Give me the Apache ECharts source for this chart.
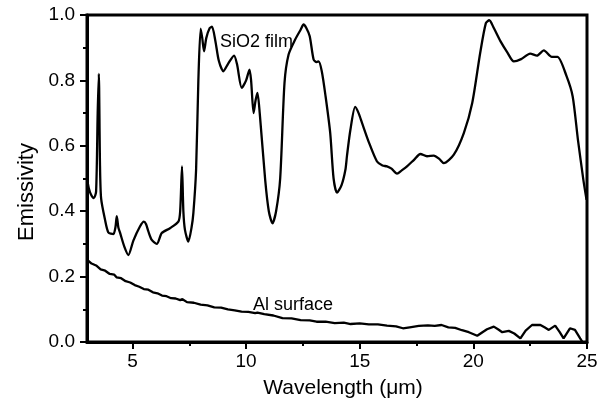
<!DOCTYPE html>
<html>
<head>
<meta charset="utf-8">
<script src="https://cdn.jsdelivr.net/npm/echarts@6/dist/echarts.min.js"></script>
<style>
  html, body { margin: 0; padding: 0; background: #fff; }
  #chart { width: 608px; height: 408px; }
</style>
</head>
<body>
<div id="chart"></div>
<script>
// Emissivity spectra: oxide film vs. bare aluminium
const sio2Wavelength = [3.0, 3.08, 3.18, 3.3, 3.4, 3.47, 3.52, 3.57, 3.62, 3.79, 3.94, 4.16, 4.25, 4.31, 4.38, 4.45, 4.65, 4.82, 5.04, 5.33, 5.5, 5.6, 5.7, 5.85, 6.07, 6.29, 6.65, 7.02, 7.1, 7.18, 7.24, 7.31, 7.46, 7.6, 7.68, 7.8, 7.9, 8.0, 8.07, 8.15, 8.25, 8.4, 8.5, 8.65, 8.8, 9.0, 9.2, 9.47, 9.6, 9.81, 10.0, 10.15, 10.22, 10.33, 10.42, 10.5, 10.6, 10.84, 11.0, 11.16, 11.32, 11.5, 11.69, 11.87, 12.16, 12.4, 12.53, 12.65, 12.8, 12.97, 13.1, 13.19, 13.33, 13.5, 13.7, 13.85, 14.0, 14.2, 14.37, 14.44, 14.59, 14.8, 14.95, 15.1, 15.39, 15.76, 16.0, 16.2, 16.4, 16.64, 16.85, 17.08, 17.4, 17.67, 17.96, 18.26, 18.5, 18.7, 19.14, 19.58, 19.95, 20.3, 20.55, 20.7, 20.9, 21.19, 21.5, 21.78, 22.1, 22.5, 22.8, 23.1, 23.45, 23.7, 24.1, 24.37, 24.6, 24.84, 24.98];
const sio2Emissivity = [0.50, 0.47, 0.45, 0.44, 0.46, 0.70, 0.82, 0.55, 0.44, 0.375, 0.335, 0.33, 0.35, 0.385, 0.35, 0.335, 0.29, 0.266, 0.31, 0.353, 0.368, 0.36, 0.338, 0.312, 0.30, 0.333, 0.348, 0.368, 0.40, 0.537, 0.40, 0.343, 0.307, 0.35, 0.394, 0.527, 0.80, 0.958, 0.93, 0.889, 0.93, 0.96, 0.964, 0.92, 0.86, 0.828, 0.85, 0.876, 0.85, 0.777, 0.80, 0.833, 0.80, 0.70, 0.74, 0.762, 0.70, 0.496, 0.40, 0.363, 0.40, 0.50, 0.792, 0.879, 0.925, 0.955, 0.971, 0.96, 0.935, 0.864, 0.856, 0.858, 0.828, 0.75, 0.64, 0.50, 0.457, 0.48, 0.527, 0.57, 0.649, 0.719, 0.70, 0.67, 0.613, 0.552, 0.54, 0.537, 0.53, 0.515, 0.525, 0.537, 0.558, 0.575, 0.568, 0.57, 0.56, 0.547, 0.573, 0.639, 0.731, 0.884, 0.975, 0.984, 0.96, 0.92, 0.885, 0.858, 0.865, 0.882, 0.876, 0.892, 0.872, 0.872, 0.813, 0.751, 0.619, 0.496, 0.435];

const alWavelength = [3.0, 3.2, 3.4, 3.6, 3.8, 4.0, 4.2, 4.3, 4.5, 4.7, 4.9, 5.1, 5.3, 5.5, 5.7, 5.9, 6.1, 6.3, 6.5, 6.7, 6.9, 7.1, 7.2, 7.4, 7.7, 8.0, 8.3, 8.6, 8.9, 9.2, 9.5, 9.8, 10.1, 10.4, 10.5, 10.8, 11.2, 11.6, 12.0, 12.4, 12.8, 13.1, 13.5, 13.9, 14.3, 14.6, 15.0, 15.4, 15.8, 16.2, 16.6, 16.9, 17.2, 17.6, 18.0, 18.3, 18.6, 18.9, 19.2, 19.5, 19.8, 20.17, 20.4, 20.6, 20.9, 21.1, 21.27, 21.56, 21.8, 22.07, 22.3, 22.58, 22.95, 23.15, 23.32, 23.6, 23.8, 23.97, 24.25, 24.47, 24.7, 24.8];
const alEmissivity = [0.252, 0.240, 0.234, 0.222, 0.218, 0.208, 0.206, 0.198, 0.195, 0.186, 0.182, 0.174, 0.169, 0.162, 0.160, 0.152, 0.149, 0.142, 0.140, 0.134, 0.133, 0.128, 0.131, 0.122, 0.120, 0.114, 0.112, 0.106, 0.105, 0.100, 0.097, 0.093, 0.092, 0.088, 0.090, 0.085, 0.081, 0.073, 0.072, 0.067, 0.066, 0.062, 0.062, 0.058, 0.059, 0.055, 0.057, 0.054, 0.054, 0.050, 0.048, 0.042, 0.045, 0.049, 0.051, 0.049, 0.052, 0.045, 0.043, 0.036, 0.030, 0.019, 0.030, 0.039, 0.047, 0.038, 0.030, 0.034, 0.026, 0.011, 0.035, 0.052, 0.052, 0.044, 0.037, 0.050, 0.030, 0.011, 0.042, 0.037, 0.011, 0.0];

const xMajorTicks = [5, 10, 15, 20, 25];
const xMinorTicks = [7.5, 12.5, 17.5, 22.5];

const FONT = '"Liberation Sans", Arial, Helvetica, sans-serif';

const chart = echarts.init(document.getElementById('chart'), null, { renderer: 'canvas' });

function pairs(xs, ys) {
  return xs.map((x, i) => [x, ys[i]]);
}

const lineStyle = { color: '#000', width: 2.3 };

chart.setOption({
  animation: false,
  backgroundColor: '#fff',
  grid: {
    left: 87, right: 21, top: 15, bottom: 66,
    show: true, borderColor: '#000', borderWidth: 3, backgroundColor: 'transparent'
  },
  xAxis: [
    {
      type: 'value', min: 3, max: 25, position: 'bottom',
      axisLine: { show: true, onZero: false, lineStyle: { color: '#000', width: 3 } },
      axisTick: { show: true, customValues: xMajorTicks, length: 7, lineStyle: { color: '#000', width: 2 } },
      axisLabel: { show: true, customValues: xMajorTicks, margin: 10, color: '#000', fontSize: 19, fontFamily: FONT },
      splitLine: { show: false }
    },
    {
      type: 'value', min: 3, max: 25, position: 'bottom',
      axisLine: { show: false, onZero: false },
      axisTick: { show: true, customValues: xMinorTicks, length: 4, lineStyle: { color: '#000', width: 2 } },
      axisLabel: { show: false },
      splitLine: { show: false }
    }
  ],
  yAxis: {
    type: 'value', min: 0, max: 1, interval: 0.2,
    axisLine: { show: true, onZero: false, lineStyle: { color: '#000', width: 3 } },
    axisTick: { show: true, length: 7, lineStyle: { color: '#000', width: 2 } },
    minorTick: { show: true, splitNumber: 2, length: 4, lineStyle: { color: '#000', width: 2 } },
    axisLabel: {
      margin: 12, color: '#000', fontSize: 19, fontFamily: FONT,
      formatter: v => v.toFixed(1)
    },
    splitLine: { show: false },
    minorSplitLine: { show: false }
  },
  series: [
    {
      name: 'SiO2 film', type: 'line', xAxisIndex: 0,
      data: pairs(sio2Wavelength, sio2Emissivity),
      showSymbol: false, smooth: 0.25, lineStyle, z: 3
    },
    {
      name: 'Al surface', type: 'line', xAxisIndex: 0,
      data: pairs(alWavelength, alEmissivity),
      showSymbol: false, smooth: false, lineStyle, z: 3
    }
  ],
  graphic: [
    {
      type: 'text', left: 220, top: 33,
      style: { text: 'SiO2 film', fill: '#000', font: '18px ' + FONT }
    },
    {
      type: 'text', left: 253, top: 296,
      style: { text: 'Al surface', fill: '#000', font: '18px ' + FONT }
    },
    {
      type: 'text', x: 343, y: 388,
      style: { text: 'Wavelength (μm)', fill: '#000', font: '21px ' + FONT, align: 'center', verticalAlign: 'middle' }
    },
    {
      type: 'text', x: 27, y: 192, rotation: Math.PI / 2,
      style: { text: 'Emissivity', fill: '#000', font: '22px ' + FONT, align: 'center', verticalAlign: 'middle' }
    }
  ]
});
</script>
</body>
</html>
